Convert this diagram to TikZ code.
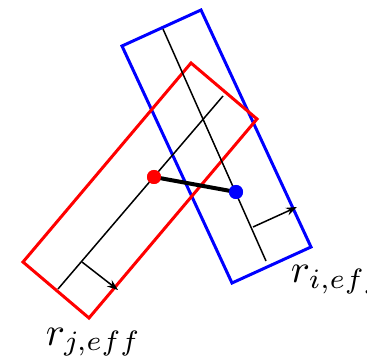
\documentclass[tikz,border=0pt]{standalone}
\usetikzlibrary{arrows.meta}
\begin{document}
\begin{tikzpicture}[x=1pt,y=-1pt,
  rect/.style={line width=3pt,line join=miter},
  axisline/.style={line width=1.5pt},
  vec/.style={line width=1.5pt,-{Stealth[length=11pt,width=8pt]}},
  dot/.style={circle,inner sep=0pt,minimum size=14pt},
  lbl/.style={scale=4.0,inner sep=0pt}]
\useasboundingbox (0,0) rectangle (367,358);
% blue rectangle
\coordinate (b1) at (122,46);
\coordinate (b2) at (201,10);
\coordinate (b3) at (311,247);
\coordinate (b4) at (232,283);
\draw[rect,blue] (b1) -- (b2) -- (b3) -- (b4) -- cycle;
% red rectangle
\coordinate (r1) at (191,63);
\coordinate (r2) at (257,119);
\coordinate (r3) at (89,318);
\coordinate (r4) at (23,262);
\draw[rect,red] (r1) -- (r2) -- (r3) -- (r4) -- cycle;
% axes
\coordinate (ba) at (163,29);
\coordinate (bb) at (266,261);
\draw[axisline] (ba) -- (bb);
\coordinate (ra) at (58,289);
\coordinate (rb) at (223,96);
\draw[axisline] (ra) -- (rb);
% arrows
\coordinate (bs) at (253,227);
\coordinate (be) at (297,207);
\draw[vec] (bs) -- (be);
\coordinate (rs) at (82,262);
\coordinate (re) at (118,290);
\draw[vec] (rs) -- (re);
% dots and link
\node[dot,fill=red] (rd) at (154,177) {};
\node[dot,fill=blue] (bd) at (236,192) {};
\draw[line width=4pt] (rd.center) -- (bd.center);
\node[dot,fill=red] at (rd) {};
\node[dot,fill=blue] at (bd) {};
% labels
\node[lbl,anchor=base west] (li) at (290,283) {$r_{i,eff}$};
\node[lbl,anchor=base west] (lj) at (45,345) {$r_{j,eff}$};
\end{tikzpicture}
\end{document}
